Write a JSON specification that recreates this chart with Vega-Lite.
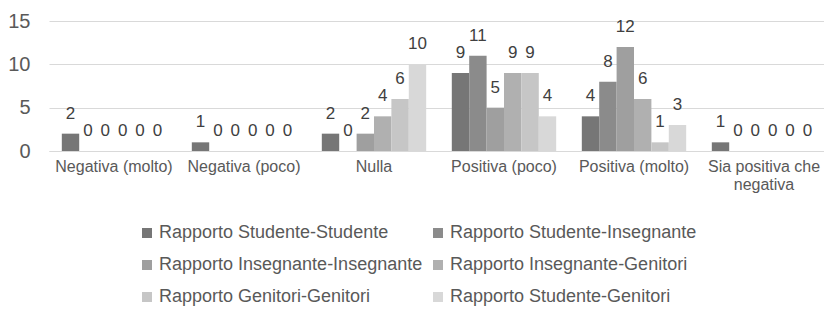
{
  "$schema": "https://vega.github.io/schema/vega-lite/v6.json",
  "autosize": {"type": "none"},
  "padding": {"left": 49, "top": 21, "right": 0, "bottom": 163},
  "width": 775,
  "height": 130,
  "background": "white",
  "config": {
    "font": "Liberation Sans",
    "view": {"stroke": null}
  },
  "data": {
    "values": [
      {"cat": "Negativa (molto)", "serie": "Rapporto Studente-Studente", "v": 2},
      {"cat": "Negativa (molto)", "serie": "Rapporto Studente-Insegnante", "v": 0},
      {"cat": "Negativa (molto)", "serie": "Rapporto Insegnante-Insegnante", "v": 0},
      {"cat": "Negativa (molto)", "serie": "Rapporto Insegnante-Genitori", "v": 0},
      {"cat": "Negativa (molto)", "serie": "Rapporto Genitori-Genitori", "v": 0},
      {"cat": "Negativa (molto)", "serie": "Rapporto Studente-Genitori", "v": 0},
      {"cat": "Negativa (poco)", "serie": "Rapporto Studente-Studente", "v": 1},
      {"cat": "Negativa (poco)", "serie": "Rapporto Studente-Insegnante", "v": 0},
      {"cat": "Negativa (poco)", "serie": "Rapporto Insegnante-Insegnante", "v": 0},
      {"cat": "Negativa (poco)", "serie": "Rapporto Insegnante-Genitori", "v": 0},
      {"cat": "Negativa (poco)", "serie": "Rapporto Genitori-Genitori", "v": 0},
      {"cat": "Negativa (poco)", "serie": "Rapporto Studente-Genitori", "v": 0},
      {"cat": "Nulla", "serie": "Rapporto Studente-Studente", "v": 2},
      {"cat": "Nulla", "serie": "Rapporto Studente-Insegnante", "v": 0},
      {"cat": "Nulla", "serie": "Rapporto Insegnante-Insegnante", "v": 2},
      {"cat": "Nulla", "serie": "Rapporto Insegnante-Genitori", "v": 4},
      {"cat": "Nulla", "serie": "Rapporto Genitori-Genitori", "v": 6},
      {"cat": "Nulla", "serie": "Rapporto Studente-Genitori", "v": 10},
      {"cat": "Positiva (poco)", "serie": "Rapporto Studente-Studente", "v": 9},
      {"cat": "Positiva (poco)", "serie": "Rapporto Studente-Insegnante", "v": 11},
      {"cat": "Positiva (poco)", "serie": "Rapporto Insegnante-Insegnante", "v": 5},
      {"cat": "Positiva (poco)", "serie": "Rapporto Insegnante-Genitori", "v": 9},
      {"cat": "Positiva (poco)", "serie": "Rapporto Genitori-Genitori", "v": 9},
      {"cat": "Positiva (poco)", "serie": "Rapporto Studente-Genitori", "v": 4},
      {"cat": "Positiva (molto)", "serie": "Rapporto Studente-Studente", "v": 4},
      {"cat": "Positiva (molto)", "serie": "Rapporto Studente-Insegnante", "v": 8},
      {"cat": "Positiva (molto)", "serie": "Rapporto Insegnante-Insegnante", "v": 12},
      {"cat": "Positiva (molto)", "serie": "Rapporto Insegnante-Genitori", "v": 6},
      {"cat": "Positiva (molto)", "serie": "Rapporto Genitori-Genitori", "v": 1},
      {"cat": "Positiva (molto)", "serie": "Rapporto Studente-Genitori", "v": 3},
      {"cat": "Sia positiva che negativa", "serie": "Rapporto Studente-Studente", "v": 1},
      {"cat": "Sia positiva che negativa", "serie": "Rapporto Studente-Insegnante", "v": 0},
      {"cat": "Sia positiva che negativa", "serie": "Rapporto Insegnante-Insegnante", "v": 0},
      {"cat": "Sia positiva che negativa", "serie": "Rapporto Insegnante-Genitori", "v": 0},
      {"cat": "Sia positiva che negativa", "serie": "Rapporto Genitori-Genitori", "v": 0},
      {"cat": "Sia positiva che negativa", "serie": "Rapporto Studente-Genitori", "v": 0}
    ]
  },
  "encoding": {
    "x": {
      "field": "cat", "type": "nominal", "sort": null,
      "scale": {"range": [0, 780], "paddingInner": 0.197, "paddingOuter": 0.0985},
      "axis": {
        "title": null, "labelAngle": 0, "ticks": false,
        "domainColor": "#d9d9d9", "domainWidth": 1,
        "labelFont": "Liberation Sans", "labelFontSize": 16, "labelColor": "#595959",
        "labelPadding": 7, "labelLimit": 200, "labelLineHeight": 18,
        "labelExpr": "datum.label == 'Sia positiva che negativa' ? ['Sia positiva che', 'negativa'] : datum.label"
      }
    },
    "xOffset": {"field": "serie", "type": "nominal", "sort": null},
    "y": {
      "field": "v", "type": "quantitative",
      "scale": {"domain": [0, 15]},
      "axis": {
        "title": null, "values": [0, 5, 10, 15], "domain": false, "ticks": false,
        "gridColor": "#d9d9d9", "gridWidth": 1,
        "labelFont": "Liberation Sans", "labelFontSize": 20, "labelColor": "#595959",
        "labelPadding": 19
      }
    }
  },
  "layer": [
    {
      "mark": {"type": "bar"},
      "encoding": {
        "color": {
          "field": "serie", "type": "nominal", "sort": null,
          "scale": {
            "domain": ["Rapporto Studente-Studente", "Rapporto Studente-Insegnante", "Rapporto Insegnante-Insegnante", "Rapporto Insegnante-Genitori", "Rapporto Genitori-Genitori", "Rapporto Studente-Genitori"],
            "range": ["#767676", "#8b8b8b", "#9f9f9f", "#b0b0b0", "#c6c6c6", "#d8d8d8"]
          },
          "legend": {
            "title": null, "orient": "none", "legendX": 89, "legendY": 203,
            "columns": 2, "direction": "horizontal", "padding": 0,
            "symbolType": "square", "symbolSize": 100, "symbolStrokeWidth": 0,
            "labelFont": "Liberation Sans", "labelFontSize": 18, "labelColor": "#595959",
            "labelOffset": 3, "labelLimit": 400, "columnPadding": 6, "rowPadding": 14
          }
        }
      }
    },
    {
      "mark": {"type": "text", "baseline": "alphabetic", "dy": -15, "fontSize": 17, "color": "#404040", "font": "Liberation Sans"},
      "encoding": {"text": {"field": "v", "type": "quantitative"}}
    }
  ]
}
